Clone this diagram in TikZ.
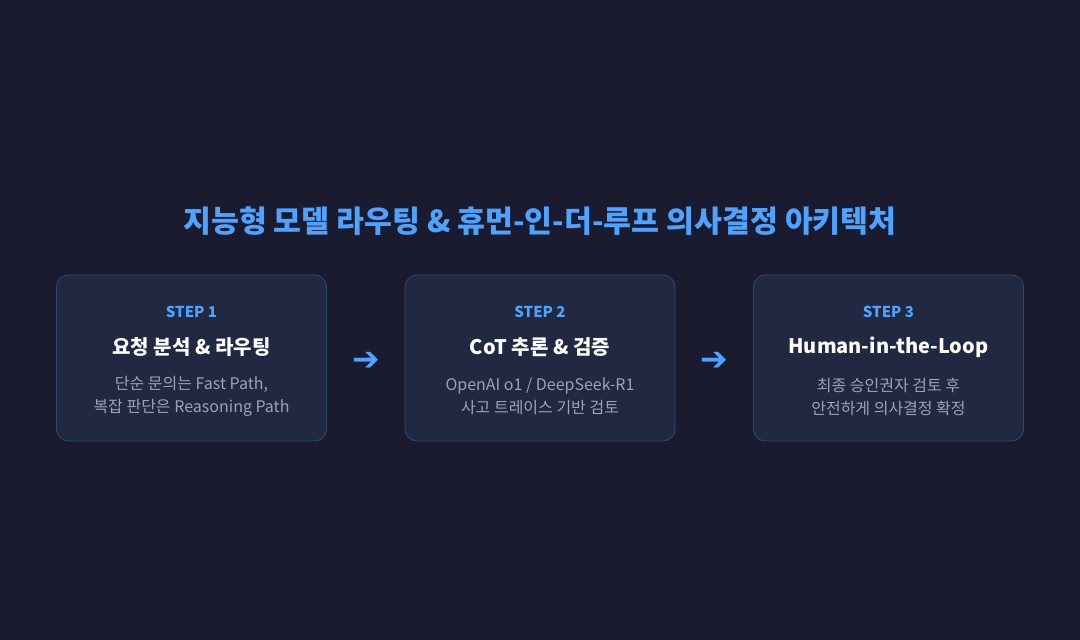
\documentclass[tikz,border=0pt]{standalone}
\usepackage{fontspec}
\setmainfont{Noto Sans CJK KR}
\newfontfamily\arrowfont{DejaVu Sans}
\usetikzlibrary{positioning}
\definecolor{bgnavy}{HTML}{1A1B2E}
\definecolor{boxfill}{HTML}{212842}
\definecolor{boxline}{HTML}{2E4A72}
\definecolor{accent}{HTML}{4DA3FF}
\definecolor{bodygray}{HTML}{9CA2B2}
\tikzset{
    step box/.style={draw=boxline,fill=boxfill,rounded corners=12pt,line width=0.8pt,
        minimum width=270pt,minimum height=166pt},
    step tag/.style={text=accent,font=\fontsize{15}{18}\selectfont\bfseries},
    step head/.style={text=white,font=\fontsize{20}{24}\selectfont\bfseries},
    step body/.style={text=bodygray,font=\fontsize{16}{23}\selectfont,align=center},
    flow arrow/.style={text=accent,font=\fontsize{33}{33}\selectfont\arrowfont\bfseries},
}

\begin{document}
\begin{tikzpicture}[x=1pt,y=-1pt]
\fill[bgnavy] (0,0) rectangle (1080,640);
\useasboundingbox (0,0) rectangle (1080,640);
\node[text=accent,font=\fontsize{30.3}{36}\selectfont\bfseries] (title) at (540,221) {지능형 모델 라우팅 \& 휴먼-인-더-루프 의사결정 아키텍처};
\node[step box] (box1) at (191.5,358) {};
\node[step box] (box2) at (540,358) {};
\node[step box] (box3) at (888.5,358) {};
%\draw[help lines] (0,0) grid[step=50] (1080,640);
\node[step tag] (tag1) at (191.5,312) {STEP 1};
\node[step head] (head1) at (191.5,347) {요청 분석 \& 라우팅};
\node[step body] (body1) at (191.5,396.5) {단순 문의는 Fast Path,\\복잡 판단은 Reasoning Path};
\node[step tag] (tag2) at (540,312) {STEP 2};
\node[step head] (head2) at (540,347) {CoT 추론 \& 검증};
\node[step body] (body2) at (540,396.5) {OpenAI o1 / DeepSeek-R1\\사고 트레이스 기반 검토};
\node[step tag] (tag3) at (888.5,312) {STEP 3};
\node[step head] (head3) at (888.5,347) {Human-in-the-Loop};
\node[step body] (body3) at (888.5,396.5) {최종 승인권자 검토 후\\안전하게 의사결정 확정};
\node[flow arrow] (arr1) at (366,361) {➔};
\node[flow arrow] (arr2) at (714,361) {➔};
\end{tikzpicture}
\end{document}
